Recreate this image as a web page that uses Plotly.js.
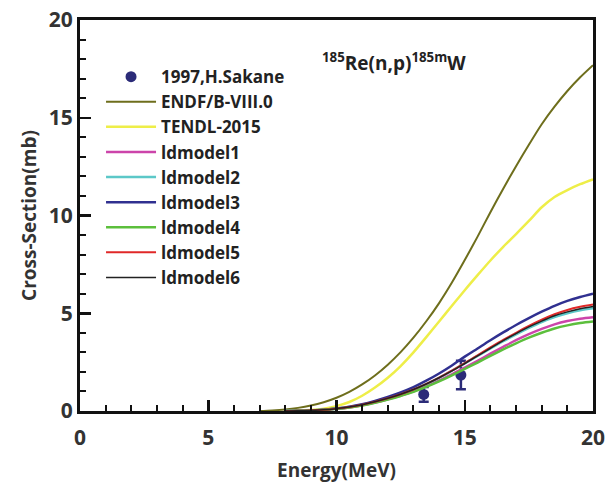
<!DOCTYPE html>
<html>
<head>
<meta charset="utf-8">
<script src="https://cdn.plot.ly/plotly-3.0.1.min.js"></script>
<style>html,body{margin:0;padding:0;background:#fff;}#chart{width:605px;height:489px;}</style>
</head>
<body>
<div id="chart"></div>
<script>
// Energy grids (MeV)
const energyA = [7,7.5,8,8.5,9,9.5,10,10.5,11,11.5,12,12.5,13,13.5,14,14.5,15,15.5,16,16.5,17,17.5,18,18.5,19,19.5,20];
const energyB = [8,8.5,9,9.5,10,10.5,11,11.5,12,12.5,13,13.5,14,14.5,15,15.5,16,16.5,17,17.5,18,18.5,19,19.5,20];

// Evaluated libraries (mb)
const endf = [0,0.03,0.08,0.16,0.28,0.45,0.68,0.98,1.36,1.82,2.37,3.01,3.75,4.59,5.52,6.57,7.72,8.92,10.17,11.37,12.52,13.62,14.67,15.57,16.37,17.07,17.69];
const tendl = [0,0.02,0.05,0.12,0.25,0.46,0.78,1.2,1.7,2.3,3.0,3.78,4.58,5.38,6.18,6.95,7.7,8.4,9.05,9.72,10.42,10.95,11.3,11.6,11.85];

// TALYS level-density models (mb), on energyB
const ldmodel1 = [0,0.01,0.03,0.06,0.11,0.18,0.29,0.43,0.6,0.79,1.01,1.27,1.56,1.88,2.22,2.57,2.93,3.28,3.62,3.93,4.2,4.43,4.6,4.72,4.8];
const ldmodel2 = [0,0.01,0.03,0.06,0.12,0.2,0.32,0.47,0.65,0.86,1.1,1.38,1.7,2.06,2.44,2.82,3.2,3.57,3.92,4.25,4.55,4.8,5.0,5.15,5.25];
const ldmodel3 = [0,0.01,0.03,0.07,0.13,0.22,0.35,0.52,0.72,0.95,1.22,1.55,1.92,2.33,2.78,3.2,3.62,4.02,4.4,4.75,5.08,5.38,5.63,5.83,6.0];
const ldmodel4 = [0,0.01,0.03,0.06,0.11,0.18,0.28,0.42,0.58,0.77,0.98,1.23,1.51,1.82,2.15,2.48,2.82,3.15,3.46,3.75,4.0,4.22,4.38,4.5,4.58];
const ldmodel5 = [0,0.01,0.03,0.06,0.12,0.2,0.32,0.47,0.65,0.86,1.1,1.39,1.71,2.07,2.45,2.85,3.25,3.64,4.0,4.35,4.67,4.95,5.17,5.33,5.45];
const ldmodel6 = [0,0.01,0.03,0.06,0.12,0.2,0.32,0.47,0.65,0.86,1.1,1.38,1.7,2.05,2.43,2.82,3.21,3.6,3.96,4.3,4.6,4.87,5.07,5.23,5.35];

// Experimental data: 1997, H.Sakane
const expE = [13.4, 14.85];
const expXS = [0.85, 1.84];
const expErr = [0.38, 0.73];

const names = ['1997,H.Sakane','ENDF/B-VIII.0','TENDL-2015','ldmodel1','ldmodel2','ldmodel3','ldmodel4','ldmodel5','ldmodel6'];
const colors = ['#2b2b78','#6e6e1c','#eeee48','#cc44aa','#5cc8c8','#303090','#5cbf3c','#e02828','#222222'];

const traces = [
  {x: expE, y: expXS, mode: 'markers', type: 'scatter', name: names[0],
   marker: {color: colors[0], size: 11, symbol: 'circle'},
   error_y: {type: 'data', array: expErr, visible: true, color: colors[0], thickness: 2.5, width: 5}},
  {x: energyA, y: endf, mode: 'lines', name: names[1], line: {color: colors[1], width: 2, shape: 'spline', smoothing: 0.8}},
  {x: energyB, y: tendl, mode: 'lines', name: names[2], line: {color: colors[2], width: 2.5, shape: 'spline', smoothing: 0.8}},
  {x: energyB, y: ldmodel1, mode: 'lines', name: names[3], line: {color: colors[3], width: 2.5, shape: 'spline'}},
  {x: energyB, y: ldmodel2, mode: 'lines', name: names[4], line: {color: colors[4], width: 2.5, shape: 'spline'}},
  {x: energyB, y: ldmodel3, mode: 'lines', name: names[5], line: {color: colors[5], width: 2.5, shape: 'spline'}},
  {x: energyB, y: ldmodel4, mode: 'lines', name: names[6], line: {color: colors[6], width: 2.5, shape: 'spline'}},
  {x: energyB, y: ldmodel5, mode: 'lines', name: names[7], line: {color: colors[7], width: 2, shape: 'spline'}},
  {x: energyB, y: ldmodel6, mode: 'lines', name: names[8], line: {color: colors[8], width: 1.5, shape: 'spline'}}
];

const fontFam = '"Open Sans", "DejaVu Sans", sans-serif';
const axisCommon = {
  range: [0, 20], dtick: 5, tick0: 0,
  showline: true, linecolor: '#111', linewidth: 3, mirror: true,
  ticks: 'inside', ticklen: 11, tickwidth: 2.5, tickcolor: '#111',
  minor: {dtick: 1, ticks: 'inside', ticklen: 6, tickwidth: 2, tickcolor: '#111'},
  showgrid: false, zeroline: false,
  ticklabeloverflow: 'allow',
  tickfont: {family: fontFam, size: 21, color: '#333', weight: 'bold'}
};

const layout = {
  width: 605, height: 489,
  margin: {l: 80, r: 12, t: 20, b: 78},
  paper_bgcolor: '#fff', plot_bgcolor: '#fff',
  font: {family: fontFam, color: '#222'},
  xaxis: Object.assign({}, axisCommon, {
    ticklabelstandoff: 6,
    title: {text: 'Energy(MeV)', font: {family: fontFam, size: 19, color: '#333', weight: 'bold'}, standoff: 14}
  }),
  yaxis: Object.assign({}, axisCommon, {
    title: {text: 'Cross-Section(mb)', font: {family: fontFam, size: 19, color: '#333', weight: 'bold'}, standoff: 8}
  }),
  showlegend: true,
  legend: {
    x: 0.041, y: 0.9, xanchor: 'left', yanchor: 'top',
    bgcolor: 'rgba(0,0,0,0)', borderwidth: 0, itemwidth: 50,
    font: {family: fontFam, size: 17, color: '#222', weight: 'bold'}
  },
  annotations: [{
    xref: 'paper', yref: 'paper', x: 0.613, y: 0.893, xanchor: 'center', yanchor: 'middle',
    showarrow: false,
    text: '<sup>185</sup>Re(n,p)<sup>185m</sup>W',
    font: {family: fontFam, size: 19, color: '#222', weight: 'bold'}
  }]
};

Plotly.newPlot('chart', traces, layout, {displayModeBar: false, staticPlot: true});
</script>
</body>
</html>
